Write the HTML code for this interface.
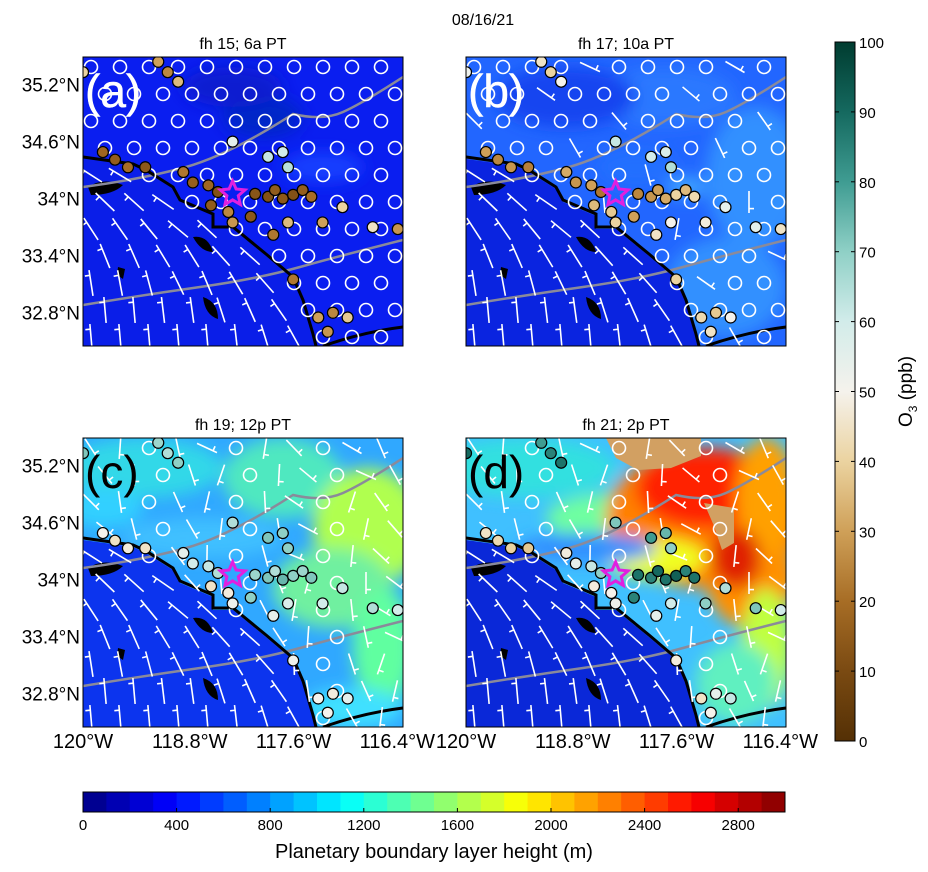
<!DOCTYPE html>
<html><head><meta charset="utf-8">
<style>
html,body{margin:0;padding:0;background:#fff;}
svg{display:block;font-family:"Liberation Sans",sans-serif;}
</style></head>
<body>
<svg id="fig" width="928" height="872" viewBox="0 0 928 872" xmlns="http://www.w3.org/2000/svg">
<defs>
  <filter id="blur8" x="-30%" y="-30%" width="160%" height="160%"><feGaussianBlur stdDeviation="8"/></filter>
  <linearGradient id="o3grad" x1="0" y1="1" x2="0" y2="0">
    <stop offset="0" stop-color="#543005"/><stop offset="0.1" stop-color="#7a4a12"/>
    <stop offset="0.2" stop-color="#a76d25"/><stop offset="0.3" stop-color="#cfa058"/>
    <stop offset="0.4" stop-color="#ebd3a0"/><stop offset="0.5" stop-color="#f5f2ec"/>
    <stop offset="0.6" stop-color="#d2ecea"/><stop offset="0.7" stop-color="#8fd0c6"/>
    <stop offset="0.8" stop-color="#3f9c92"/><stop offset="0.9" stop-color="#15695f"/>
    <stop offset="1" stop-color="#003c30"/>
  </linearGradient>
</defs>
<text x="483" y="25" font-size="16" text-anchor="middle">08/16/21</text>
<g id="panels"></g>
<g id="cbars"></g>
</svg>
<script>
// ---- data ----
const stationLon = [-119.77,-119.63,-119.48,-119.28,-118.84,-118.73,-118.55,-118.44,-118.52,-118.32,-118.27,-118.06,-118.01,-117.86,-117.78,-117.69,-117.57,-117.46,-117.36,-117.80,-117.63,-117.23,-117.0,-116.65,-116.36,-117.57,-117.28,-117.11,-116.94,-117.17,-118.27,-117.69,-117.86,-117.63,-119.13,-119.02,-118.90,-120.0];
const stationLat = [34.49,34.41,34.33,34.33,34.28,34.17,34.14,34.07,33.93,33.86,33.75,33.81,34.05,34.02,34.09,34.00,34.04,34.09,34.02,33.62,33.75,33.75,33.91,33.70,33.68,33.15,32.75,32.80,32.75,32.60,34.60,34.49,34.44,34.33,35.44,35.33,35.23,35.33];
const o3_a = [18,15,20,14,22,16,18,12,15,25,28,14,13,12,15,14,12,16,20,22,35,30,40,45,28,22,30,25,38,28,55,60,62,64,30,25,35,40];
const o3_b = [30,25,28,24,32,28,30,22,35,38,40,30,25,28,30,32,40,35,42,45,50,48,55,55,45,40,42,38,50,45,62,58,60,65,45,40,50,52];
const o3_c = [50,45,48,45,55,60,62,65,45,48,52,70,68,72,65,75,70,68,72,55,58,60,62,65,60,52,50,48,55,50,65,70,72,70,68,65,70,72];
const o3_d = [45,42,40,38,48,55,62,70,48,50,52,85,88,85,90,88,92,85,88,55,60,70,65,72,60,48,45,55,62,50,72,75,80,70,80,85,88,90];
const ticksLat = [35.2,34.6,34.0,33.4,32.8];
const latLabels = ["35.2°N","34.6°N","34°N","33.4°N","32.8°N"];
const ticksLon = [-120,-118.8,-117.6,-116.4];
const lonLabels = ["120°W","118.8°W","117.6°W","116.4°W"];
const o3Ticks = [0,10,20,30,40,50,60,70,80,90,100];
const pblTicks = [0,400,800,1200,1600,2000,2400,2800];

const NS="http://www.w3.org/2000/svg";
function el(tag, attrs, parent){const e=document.createElementNS(NS,tag);for(const k in attrs)e.setAttribute(k,attrs[k]);if(parent)parent.appendChild(e);return e;}

function jet(t){t=Math.max(0,Math.min(1,t));
  const r=Math.max(0,Math.min(1,1.5-Math.abs(4*t-3))),g=Math.max(0,Math.min(1,1.5-Math.abs(4*t-2))),b=Math.max(0,Math.min(1,1.5-Math.abs(4*t-1)));
  return `rgb(${Math.round(r*255)},${Math.round(g*255)},${Math.round(b*255)})`;}
const o3stops=[[0,[84,48,5]],[10,[122,74,18]],[20,[167,109,37]],[30,[207,160,88]],[40,[235,211,160]],[50,[245,242,236]],[60,[210,236,234]],[70,[143,208,198]],[80,[63,156,146]],[90,[21,105,95]],[100,[0,60,48]]];
function o3col(v){for(let i=1;i<o3stops.length;i++){if(v<=o3stops[i][0]){const a=o3stops[i-1],b=o3stops[i],f=(v-a[0])/(b[0]-a[0]);return `rgb(${a[1].map((c,j)=>Math.round(c+(b[1][j]-c)*f)).join(',')})`;}}return 'rgb(0,60,48)';}

const W=320,H=289;
function xs(lon){return (lon+120)/3.7*W;}
function ys(lat){return (35.49-lat)/3.04*H;}

const coast=[[0,100],[50,107],[63,113],[90,130],[97,143],[130,157],[130,170],[150,170],[183,197],[210,220],[220,243],[230,277],[233,289]];
function coastY(x){for(let i=1;i<coast.length;i++){if(x<=coast[i][0]){const a=coast[i-1],b=coast[i];return a[1]+(b[1]-a[1])*(x-a[0])/Math.max(1,b[0]-a[0]);}}return 999;}
function isOcean(x,y){ if(x>233) return false; return y>coastY(x)+4; }

const panels=[
 {id:'a',x:83,y:57,title:'fh 15; 6a PT',o3:o3_a,land:'#0a1ef0',ocean:'#0a1ee8',blobs:[[180,60,40,20,'#0028c8'],[240,110,40,15,'#1840ff'],[150,30,50,20,'#0a1ad0']]},
 {id:'b',x:466,y:57,title:'fh 17; 10a PT',o3:o3_b,land:'#2266ff',ocean:'#0a24e0',blobs:[[200,40,70,30,'#2a78ff'],[290,120,50,70,'#3090ff'],[100,40,70,30,'#1444f0'],[260,230,60,50,'#3090ff'],[170,110,40,20,'#2070ff'],[220,130,20,10,'#40a8ff']]},
 {id:'c',x:83,y:438,title:'fh 19; 12p PT',o3:o3_c,land:'#30a8ff',ocean:'#0c34ee',blobs:[[60,30,80,30,'#30d8e8'],[200,40,60,40,'#50e8c0'],[285,90,55,60,'#b0ff50'],[250,150,60,40,'#70f0a0'],[120,100,80,20,'#40c0ff'],[300,210,30,60,'#60ffa0'],[270,270,50,20,'#40e0ff'],[20,70,40,20,'#30d0ff']]},
 {id:'d',x:466,y:438,title:'fh 21; 2p PT',o3:o3_d,land:'#40c0ff',ocean:'#0a28d8',blobs:[[60,30,90,30,'#30e0e0'],[150,80,70,25,'#70ffa0'],[240,80,100,70,'#ff8000'],[240,50,70,40,'#ff2000'],[285,140,45,50,'#ff9000'],[300,60,30,60,'#ffa000'],[190,120,50,20,'#f0ff20'],[300,210,25,60,'#c0ff40'],[270,245,40,40,'#60f0c0'],[120,110,70,15,'#3090ff'],[270,120,25,30,'#e02000']]}
];

const pg=document.getElementById('panels');
panels.forEach((p,pi)=>{
  const g=el('g',{transform:`translate(${p.x},${p.y})`},pg);
  
  
  const cp=el('clipPath',{id:'clip'+p.id},g);el('rect',{x:0,y:0,width:W,height:H},cp);
  const inner=el('g',{'clip-path':`url(#clip${p.id})`},g);
  el('rect',{x:0,y:0,width:W,height:H,fill:p.land},inner);
  const bg=el('g',{filter:'url(#blur8)'},inner);
  p.blobs.forEach(b=>el('ellipse',{cx:b[0],cy:b[1],rx:b[2],ry:b[3],fill:b[4]},bg));
  if(p.id==='d'){ el('path',{d:'M140,0 L235,0 L235,18 L205,30 L172,32 L150,20 Z',fill:'#d2a062'},inner);
    el('path',{d:'M238,65 L268,70 L268,105 L256,112 L248,88 Z',fill:'#d2a062'},inner);}
  let od='M0,'+coast[0][1]+' '+coast.map(c=>'L'+c[0]+','+(c[1]+2)).join(' ')+' L0,'+H+' Z';
  el('path',{d:od,fill:p.ocean},inner);
  el('path',{d:'M5,130 Q20,120 40,128 Q30,138 8,138 Z',fill:'#000'},inner);
  el('path',{d:'M110,180 Q125,178 130,195 Q118,195 110,180 Z',fill:'#000'},inner);
  el('path',{d:'M120,240 Q135,245 135,262 Q122,258 120,240 Z',fill:'#000'},inner);
  el('path',{d:'M35,210 L42,212 L40,222 L34,218 Z',fill:'#000'},inner);
  el('path',{d:'M0,130 Q60,122 103,110 T210,57 Q240,64 260,55 T320,20',fill:'none',stroke:'#8a8a9a','stroke-width':2.5},inner);
  el('path',{d:'M0,248 Q60,238 117,230 T217,210 T320,183',fill:'none',stroke:'#8a8a9a','stroke-width':2.5},inner);
  el('path',{d:'M'+coast.map(c=>c.join(',')).join(' L')+' L233,292',fill:'none',stroke:'#000','stroke-width':3},inner);
  el('path',{d:'M240,289 Q280,275 320,270',fill:'none',stroke:'#000','stroke-width':3},inner);
  const bars=el('g',{stroke:'#fff','stroke-width':1.6,fill:'none'},inner);
  let k=0;
  for(let gy=10;gy<H+10;gy+=27){for(let gx=8;gx<W+10;gx+=29){k++;
    const x=gx+((Math.floor(gy/27))%2)*14, y=gy;
    const oc=isOcean(x,y);
    if(oc || (pi>=2 && (k%3!==0)) || (pi===1 && k%5===0)){
      const ang=(oc?(25+Math.min(60,Math.max(0,(y-coastY(x))*0.45)+ (x<100?0:10))):(200+ (k*37)%90))*Math.PI/180;
      const L=oc?26:22, dx=Math.cos(ang)*L/2, dy=Math.sin(ang)*L/2;
      el('line',{x1:x-dx,y1:y-dy,x2:x+dx,y2:y+dy},bars);
      const px=-Math.sin(ang)*5,py=Math.cos(ang)*5, bx=x-dx*0.6, by=y-dy*0.6;
      el('line',{x1:bx,y1:by,x2:bx+px,y2:by+py},bars);
    } else {
      el('circle',{cx:x,cy:y,r:6.5},bars);
    }
  }}
  const sg=el('g',{},inner);
  stationLon.forEach((lon,i)=>{
    const c=el('circle',{cx:xs(lon),cy:ys(stationLat[i]),r:5.5,fill:o3col(p.o3[i]),stroke:'#000','stroke-width':1.2},sg);
    
    
  });
  const sx=xs(-118.27), sy=ys(34.05); let sd='';
  for(let i=0;i<10;i++){const r=i%2?6:13,a=-Math.PI/2+i*Math.PI/5;sd+=(i?'L':'M')+(sx+r*Math.cos(a)).toFixed(1)+','+(sy+r*Math.sin(a)).toFixed(1);}
  const st=el('path',{d:sd+'Z',fill:'none',stroke:'#e020e0','stroke-width':3},inner);
  
  
  const light=(p.id==='a'||p.id==='b');
  const lt=el('text',{x:2,y:50,'font-size':46,fill:light?'#fff':'#000',stroke:light?'#fff':'none','stroke-width':0.5},inner);
  lt.textContent='('+p.id+')';
  
  
  el('rect',{x:0,y:0,width:W,height:H,fill:'none',stroke:'#000','stroke-width':1},g);
  const t=el('text',{x:W/2,y:-8,'font-size':16,'text-anchor':'middle'},g);t.textContent=p.title;
  
  
  if(p.id==='a'||p.id==='c'){
    ticksLat.forEach((v,i)=>{const tt=el('text',{x:-3,y:ys(v)+7,'font-size':19,'text-anchor':'end'},g);tt.textContent=latLabels[i];
      
      });
  }
  if(p.id==='c'||p.id==='d'){
    ticksLon.forEach((v,i)=>{const tt=el('text',{x:xs(v)+(i===0?0:3),y:H+21,'font-size':20,'text-anchor':'middle'},g);tt.textContent=lonLabels[i];
      
      });
  }
});

const cb=document.getElementById('cbars');
const oc=el('g',{},cb);


const cbx=835,cby=42,cbw=20,cbh=699;
el('rect',{x:cbx,y:cby,width:cbw,height:cbh,fill:'url(#o3grad)',stroke:'#000','stroke-width':1},oc);
o3Ticks.forEach(v=>{const y=cby+cbh-v/100*cbh;
  el('line',{x1:cbx,y1:y,x2:cbx+4,y2:y,stroke:'#000'},oc);el('line',{x1:cbx+cbw-4,y1:y,x2:cbx+cbw,y2:y,stroke:'#000'},oc);
  const t=el('text',{x:cbx+cbw+4,y:y+6,'font-size':15},oc);t.textContent=v;
  
  });
const ot=el('text',{transform:`translate(912,${cby+cbh/2}) rotate(-90)`,'font-size':19,'text-anchor':'middle'},oc);
ot.innerHTML='O<tspan font-size="12" dy="5">3</tspan><tspan dy="-5"> (ppb)</tspan>';



const pb=el('g',{},cb);


const bx=83,by=792,bw=702,bh=20,N=30;
for(let i=0;i<N;i++){el('rect',{x:bx+i*bw/N,y:by,width:bw/N+0.5,height:bh,fill:jet((i+0.5)/N)},pb);}
el('rect',{x:bx,y:by,width:bw,height:bh,fill:'none',stroke:'#000'},pb);
pblTicks.forEach(v=>{const x=bx+v/3000*bw;
  el('line',{x1:x,y1:by+bh-4,x2:x,y2:by+bh,stroke:'#000'},pb);
  const t=el('text',{x:x,y:by+bh+18,'font-size':15,'text-anchor':'middle'},pb);t.textContent=v;
  
  });
const pt=el('text',{x:bx+bw/2,y:858,'font-size':20,'text-anchor':'middle'},pb);
pt.textContent='Planetary boundary layer height (m)';


</script>
</body></html>
